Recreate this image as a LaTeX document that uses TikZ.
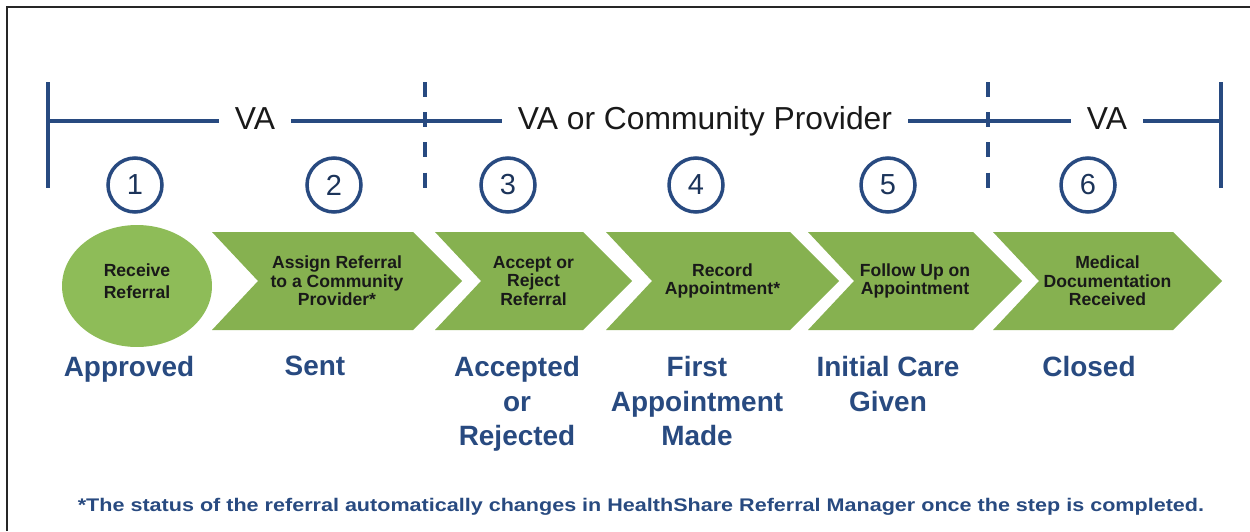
\documentclass[tikz,border=0pt]{standalone}
\usepackage{fontspec}
\setmainfont{Liberation Sans}
\usepackage{tikz}
\usetikzlibrary{shapes.geometric}

\definecolor{vanavy}{RGB}{40,74,128}
\definecolor{stepgreen}{RGB}{134,177,80}
\definecolor{startgreen}{RGB}{142,188,88}

\tikzset{
    bracketline/.style={vanavy, line width=2.2pt},
    dashline/.style={vanavy, line width=1.9pt, dash pattern=on 8.5pt off 8.7pt},
    partylabel/.style={anchor=base, inner xsep=0.32cm, inner ysep=0pt, text=black!90,
        font=\fontsize{18.1}{20}\selectfont},
    numcircle/.style={circle, draw=vanavy, line width=2pt, minimum size=1.08cm, inner sep=0pt,
        text=vanavy!70!black, font=\fontsize{16.5}{18}\selectfont},
    steptext/.style={align=center, inner sep=0pt, text=black!90,
        font=\bfseries\fontsize{10}{10.5}\selectfont},
    statustext/.style={align=center, anchor=north, inner sep=0pt, text=vanavy,
        font=\bfseries\fontsize{15.9}{19.6}\selectfont}
}

\begin{document}
\begin{tikzpicture}[x=0.02cm,y=-0.02cm]
    \useasboundingbox (0,0) rectangle (1250,531);
    \draw[line width=1.1pt, black!85] (7,531) -- (7,7) -- (1250,7);

    % who does the step
    \coordinate (ltop) at (48,82);
    \coordinate (lbot) at (48,188);
    \coordinate (lmid) at (48,121);
    \coordinate (rtop) at (1221,82);
    \coordinate (rbot) at (1221,188);
    \coordinate (rmid) at (1221,121);
    \coordinate (d1top) at (425,82);
    \coordinate (d1bot) at (425,188);
    \coordinate (d2top) at (988,82);
    \coordinate (d2bot) at (988,188);
    \node[partylabel] (va1) at (255,129.5) {VA};
    \node[partylabel] (vacp) at (705,129.5) {VA or Community Provider};
    \node[partylabel] (va2) at (1107,129.5) {VA};
    \draw[bracketline] (ltop) -- (lbot);
    \draw[bracketline] (rtop) -- (rbot);
    \draw[bracketline] (lmid) -- (lmid -| va1.west);
    \draw[bracketline] (lmid -| va1.east) -- (lmid -| vacp.west);
    \draw[bracketline] (lmid -| vacp.east) -- (lmid -| va2.west);
    \draw[bracketline] (lmid -| va2.east) -- (rmid);
    \draw[dashline] (d1top) -- (d1bot);
    \draw[dashline] (d2top) -- (d2bot);

    % step numbers
    \foreach \x/\k in {135/1,334/2,508/3,696/4,888/5,1088/6}
        \node[numcircle] (n\k) at (\x,185) {\k};

    % steps
    \node[ellipse, fill=startgreen, minimum width=3cm, minimum height=2.44cm, steptext,
        text depth=0.2cm, font=\bfseries\fontsize{10}{12.5}\selectfont] (s1) at (137,286) {Receive\\Referral};
    \foreach \L/\S/\n/\txt in {212/413/s2/{Assign Referral\\to a Community\\Provider*},
                               435/583/s3/{Accept or\\Reject\\Referral},
                               606/790/s4/{Record\\Appointment*},
                               808/973/s5/{Follow Up on\\Appointment},
                               993/1173/s6/{Medical\\Documentation\\Received}}
    {
        \fill[stepgreen] (\L,232) -- (\S,232) -- ({\S+49},281) -- (\S,330)
            -- (\L,330) -- ({\L+46},281) -- cycle;
        \node[steptext] (\n) at ({(\L+\S+49)/2},281) {\txt};
    }

    % status
    \foreach \x/\n/\txt in {129/approved/Approved, 315/sent/Sent,
                            517/accrej/{Accepted\\or\\Rejected},
                            697/firstapp/{First\\Appointment\\Made},
                            888/initcare/{Initial Care\\Given}, 1089/closed/Closed}
        \node[statustext] (\n) at (\x,356) {\txt};

    \node[text=vanavy, inner sep=0pt,
        font=\bfseries\fontsize{10.4}{12}\selectfont\addfontfeature{FakeStretch=1.18}] (note) at (641,507)
        {*The status of the referral automatically changes in HealthShare Referral Manager once the step is completed.};
\end{tikzpicture}
\end{document}
